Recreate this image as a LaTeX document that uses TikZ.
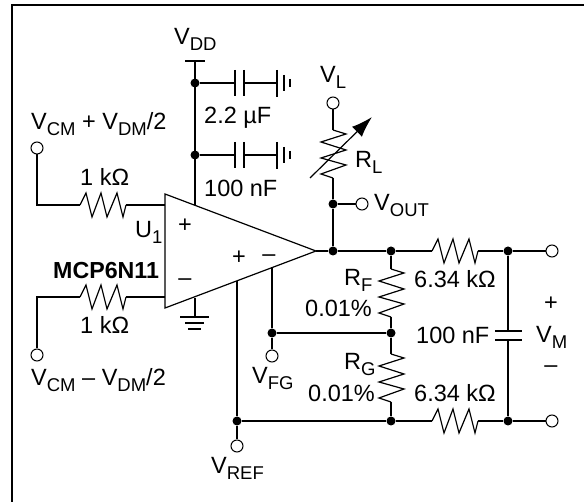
\documentclass[tikz,border=0pt]{standalone}
\usepackage{fontspec}
\setmainfont{Liberation Sans}
\usetikzlibrary{positioning, arrows.meta}

\newcommand{\lowtxt}[1]{\raisebox{-5.5pt}{\fontsize{18.5}{19}\selectfont #1}}

\begin{document}
\begin{tikzpicture}[
    x=1pt,y=-1pt,on grid,
    wire/.style={line width=1.8pt},
    part/.style={line width=1.2pt},
    dot/.style={circle,fill=black,inner sep=0pt,minimum size=9pt},
    term/.style={circle,draw,line width=1pt,inner sep=0pt,minimum size=12pt},
    lbl/.style={inner sep=0pt,anchor=base west,font=\fontsize{23.5}{25}\selectfont},
    boldlbl/.style={lbl,font=\fontsize{23.2}{25}\selectfont\bfseries},
    pics/hres/.style={code={
        \draw[part] (0,0)--(6,-12)--(12,12)--(21,-12)--(27,12)--(37,-12)--(43,12)--(46,0);
        \coordinate (-in) at (0,0);
        \coordinate (-out) at (46,0);}},
    pics/vres/.style={code={
        \draw[part] (0,0)--(13,4)--(-12,12)--(13,20)--(-12,28)--(13,35)--(-12,44)--(0,48);
        \coordinate (-in) at (0,0);
        \coordinate (-out) at (0,48);}},
    pics/gndcap/.style={code={
        \draw[wire] (0,-13)--(0,13) (9,-13)--(9,13);
        \draw[wire] (9,0)--(42,0);
        \draw[wire] (42,-13)--(42,14);
        \draw[wire] (49,-8)--(49,8);
        \draw[wire] (55,-4)--(55,4);
        \coordinate (-in) at (0,0);}}]

\useasboundingbox (0,0) rectangle (584,502);
\draw[line width=2.2pt] (12,502)--(12,5)--(584,5);

%supply====================================================================
\coordinate (vddtop) at (195,61);
\node[dot] (d1) at (195,83) {};
\node[dot,below=72pt of d1] (d2) {};
\coordinate (ampsup) at (195,205);
\draw[wire] (185,61)--(205,61);
\draw[wire] (vddtop)--(ampsup);
\pic (c1) at (235,83) {gndcap};
\pic (c2) at (235,155) {gndcap};
\draw[wire] (d1)--(c1-in);
\draw[wire] (d2)--(c2-in);
\node[lbl] (vdd) at (174,45) {V\lowtxt{DD}};
\node[lbl] (c1val) at (204,124) {2.2 µF};
\node[lbl] (c2val) at (204,197) {100 nF};

%amp====================================================================
\coordinate (amptop) at (165,194);
\coordinate (ampbot) at (165,308);
\coordinate (ampout) at (316,251);
\draw[part,line join=miter] (amptop)--(ampout)--(ampbot)--cycle;
\node[lbl,anchor=center] (ampp) at (185,226) {+};
\node[lbl,anchor=center] (ampn) at (185,282) {–};
\node[lbl,anchor=center] (fbp) at (239,258) {+};
\node[lbl,anchor=center] (fbn) at (269,258) {–};
\node[lbl] (u1) at (135,238) {U\lowtxt{1}};
\node[boldlbl] (mcp) at (53,279) {MCP6N11};

%inputs====================================================================
\node[term] (vp) at (37,148) {};
\node[term] (vn) at (37,355) {};
\pic (r1) at (80,205) {hres};
\pic (r2) at (80,297) {hres};
\coordinate (inp) at (165,205);
\coordinate (inn) at (165,297);
\draw[wire] (vp) |- (r1-in);
\draw[wire] (vn) |- (r2-in);
\draw[wire] (r1-out)--(inp);
\draw[wire] (r2-out)--(inn);
\node[lbl] (vplbl) at (31,130) {V\lowtxt{CM} + V\lowtxt{DM}/2};
\node[lbl] (vnlbl) at (31,386) {V\lowtxt{CM} – V\lowtxt{DM}/2};
\node[lbl] (r1val) at (80,186) {1 kΩ};
\node[lbl] (r2val) at (80,334) {1 kΩ};

%ground====================================================================
\coordinate (ampgnd) at (195,298);
\coordinate (gnd) at (195,317);
\draw[wire] (ampgnd)--(gnd);
\draw[wire] (180,317)--(209,317) (185,323)--(204,323) (188,329)--(201,329);

%load====================================================================
\node[dot] (dout) at (333,251) {};
\node[dot,above=47pt of dout] (dvout) {};
\node[term,right=29pt of dvout] (vout) {};
\node[term] (vl) at (333,103) {};
\pic (rl) at (333,130) {vres};
\draw[wire] (dout)--(dvout);
\draw[wire] (dvout)--(vout);
\draw[wire] (dvout)--(rl-out);
\draw[wire] (vl)--(rl-in);
\coordinate (rlfrom) at (310,178);
\coordinate (rlto) at (372,117);
\draw[part,-{Latex[length=21pt,width=14pt]}] (rlfrom)--(rlto);
\node[lbl] (vllbl) at (320,83) {V\lowtxt{L}};
\node[lbl] (rllbl) at (355,168) {R\lowtxt{L}};
\node[lbl] (voutlbl) at (374,211) {V\lowtxt{OUT}};

%divider====================================================================
\node[dot] (df) at (391,251) {};
\node[dot] (dm) at (391,333) {};
\node[dot] (dg) at (391,421) {};
\node[dot] (dct) at (508,251) {};
\node[dot] (dcb) at (508,421) {};
\node[dot] (dfg) at (272,333) {};
\node[dot] (dref) at (237,421) {};
\node[term] (vmt) at (552,251) {};
\node[term] (vmb) at (552,421) {};
\node[term] (vfg) at (272,356) {};
\node[term] (vref) at (237,446) {};
\pic (rf) at (391,269) {vres};
\pic (rg) at (391,354) {vres};
\pic (r3) at (432,251) {hres};
\pic (r4) at (432,421) {hres};
\coordinate (ampfg) at (272,268);
\coordinate (ampref) at (237,281);
\draw[wire] (ampout)--(dout);
\draw[wire] (dout)--(df);
\draw[wire] (df)--(r3-in);
\draw[wire] (r3-out)--(dct);
\draw[wire] (dct)--(vmt);
\draw[wire] (df)--(rf-in);
\draw[wire] (rf-out)--(dm);
\draw[wire] (dm)--(rg-in);
\draw[wire] (rg-out)--(dg);
\draw[wire] (dfg)--(dm);
\draw[wire] (ampfg)--(dfg);
\draw[wire] (dfg)--(vfg);
\draw[wire] (ampref)--(dref);
\draw[wire] (dref)--(vref);
\draw[wire] (dref)--(dg);
\draw[wire] (dg)--(r4-in);
\draw[wire] (r4-out)--(dcb);
\draw[wire] (dcb)--(vmb);
\coordinate (ctop) at (508,331);
\coordinate (cbot) at (508,340);
\draw[wire] (dct)--(ctop);
\draw[wire] (cbot)--(dcb);
\draw[wire] (495,331)--(522,331) (495,340)--(522,340);
\node[lbl] (rflbl) at (344,286) {R\lowtxt{F}};
\node[lbl] (rgl) at (344,370) {R\lowtxt{G}};
\node[lbl] (rfpct) at (305,317) {0.01\%};
\node[lbl] (rgpct) at (308,402) {0.01\%};
\node[lbl] (r3val) at (414,288) {6.34 kΩ};
\node[lbl] (r4val) at (414,402) {6.34 kΩ};
\node[lbl] (c3val) at (416,344) {100 nF};
\node[lbl] (vmlbl) at (536,343) {V\lowtxt{M}};
\node[lbl,anchor=center] (vmp) at (551,304) {+};
\node[lbl,anchor=center] (vmn) at (551,369) {–};
\node[lbl] (vfglbl) at (252,384) {V\lowtxt{FG}};
\node[lbl] (vreflbl) at (211,474) {V\lowtxt{REF}};

\end{tikzpicture}
\end{document}
